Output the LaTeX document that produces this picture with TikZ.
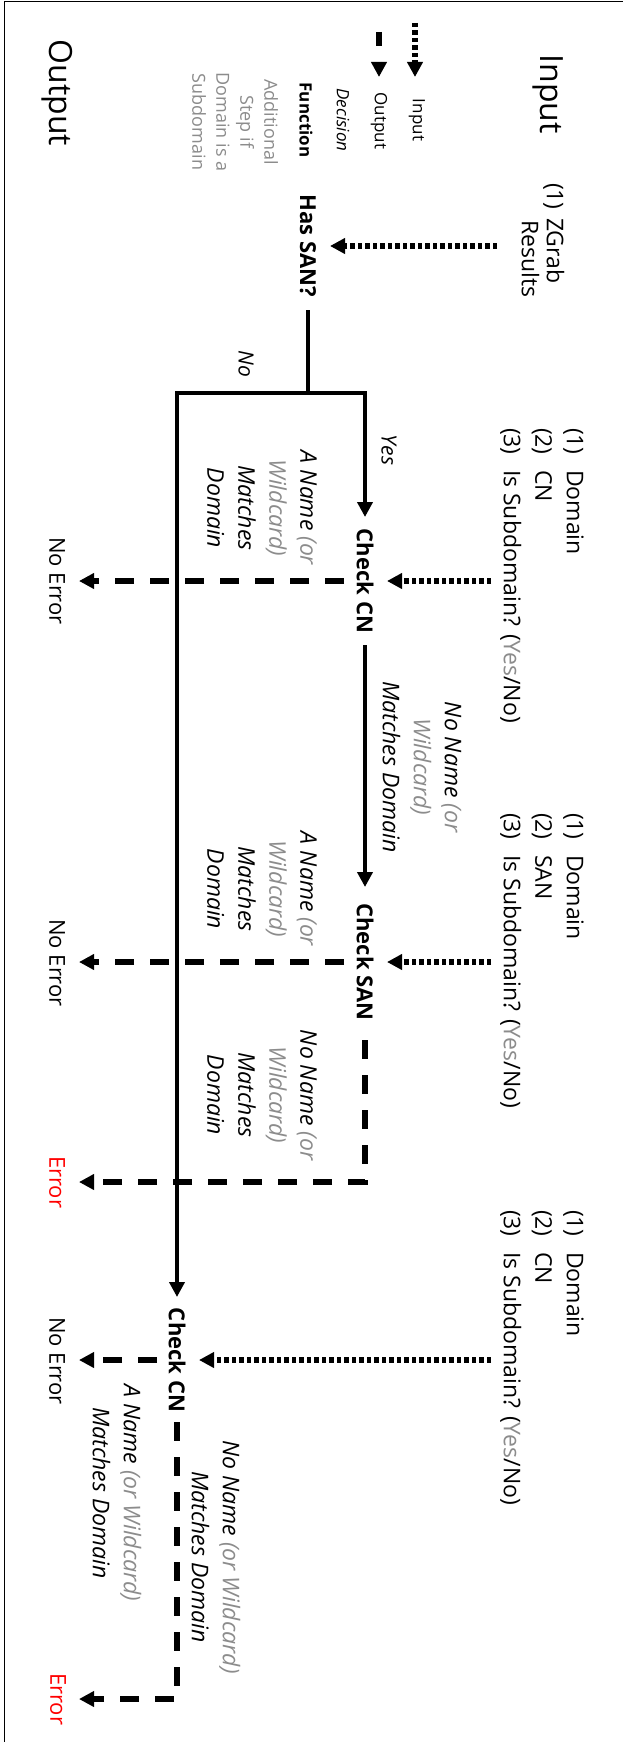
\documentclass[tikz,border=0pt]{standalone}
\usepackage{fontspec}
\setmainfont{Open Sans}
\usetikzlibrary{arrows.meta}
\definecolor{lg}{RGB}{140,140,140}
\definecolor{errred}{RGB}{255,0,0}
\newcommand{\myfs}[2]{\fontsize{#1pt}{#2pt}\selectfont}
\begin{document}
\begin{tikzpicture}[x=1pt,y=-1pt,
  rt/.style={rotate=-90,inner sep=0pt,outer sep=0pt,align=center},
  fnbox/.style={rt,font=\bfseries\myfs{22}{26}},
  lbl/.style={rt,font=\itshape\myfs{23}{31}},
  inlist/.style={rt,anchor=west,align=left,font=\myfs{23}{31.5}},
  outtxt/.style={rt,font=\myfs{22}{26}},
  tipd/.style={-{Triangle[length=15pt,width=15pt]}},
  solidarr/.style={line width=4.5pt,tipd},
  solidln/.style={line width=4.5pt},
  dasharr/.style={line width=5.5pt,dash pattern=on 19pt off 16pt,tipd},
  dotarr/.style={line width=5.5pt,dash pattern=on 4.5pt off 3pt,tipd},
]
\useasboundingbox (0,0) rectangle (623,1742);
\fill[white] (0,0) rectangle (623,1742);
\draw[line width=1.5pt] (4.5,1742) -- (4.5,1.5) -- (623,1.5);

% titles
\node[rt,font=\myfs{32}{38}] (tin) at (548,94) {Input};
\node[rt,font=\myfs{32}{38}] (tout) at (57,93) {Output};

% legend
\coordinate (lgA) at (415,23);
\coordinate (lgB) at (415,77);
\coordinate (lgC) at (379,32);
\coordinate (lgD) at (379,77);
\draw[dotarr] (lgA) -- (lgB);
\draw[dasharr,dash pattern=on 14pt off 16pt] (lgC) -- (lgD);
\node[rt,font=\myfs{17}{20}] (lgin) at (417,120) {Input};
\node[rt,font=\myfs{17}{20}] (lgout) at (379,121) {Output};
\node[rt,font=\itshape\myfs{17}{20}] (lgdec) at (343,120) {Decision};
\node[rt,font=\bfseries\myfs{17}{20}] (lgfun) at (306,120) {Function};
\node[rt,font=\myfs{18}{24},text=lg] (lgadd) at (235,122) {Additional\\Step if\\Domain is a\\Subdomain};

% inputs
\node[inlist,font=\myfs{23}{25}] (zgrab) at (543,183) {\makebox[35pt][l]{(1)}ZGrab\\\hspace*{37pt}Results};
\node[inlist] (in1) at (542,428) {\makebox[42pt][l]{(1)}Domain\\\makebox[42pt][l]{(2)}CN\\\makebox[42pt][l]{(3)}Is Subdomain? ({\color{lg}Yes}/No)};
\node[inlist] (in2) at (542,813) {\makebox[42pt][l]{(1)}Domain\\\makebox[42pt][l]{(2)}SAN\\\makebox[42pt][l]{(3)}Is Subdomain? ({\color{lg}Yes}/No)};
\node[inlist] (in3) at (542,1210) {\makebox[42pt][l]{(1)}Domain\\\makebox[42pt][l]{(2)}CN\\\makebox[42pt][l]{(3)}Is Subdomain? ({\color{lg}Yes}/No)};

% functions
\node[fnbox] (has) at (308,246) {Has SAN?};
\node[fnbox] (check1) at (365,581) {Check CN};
\node[fnbox] (checksan) at (365,962) {Check SAN};
\node[fnbox] (check3) at (177,1360) {Check CN};

% outputs
\node[outtxt] (noerr1) at (57,581) {No Error};
\node[outtxt] (noerr2) at (57,963) {No Error};
\node[outtxt,text=errred] (err1) at (57,1182) {Error};
\node[outtxt] (noerr3) at (57,1361) {No Error};
\node[outtxt,text=errred] (err2) at (58,1699) {Error};

% decisions
\node[lbl,font=\itshape\myfs{21}{25}] (no) at (246,364) {No};
\node[lbl,font=\itshape\myfs{21}{25}] (yes) at (389,450) {Yes};
\node[lbl] (lab1) at (262,508) {A Name {\color{lg}(or}\\{\color{lg}Wildcard)}\\Matches\\Domain};
\node[lbl] (lab2) at (422,767) {No Name {\color{lg}(or}\\{\color{lg}Wildcard)}\\Matches Domain};
\node[lbl] (lab3) at (262,889) {A Name {\color{lg}(or}\\{\color{lg}Wildcard)}\\Matches\\Domain};
\node[lbl] (lab4) at (262,1095) {No Name {\color{lg}(or}\\{\color{lg}Wildcard)}\\Matches\\Domain};
\node[lbl] (lab5) at (216,1557) {No Name {\color{lg}(or Wildcard)}\\Matches Domain};
\node[lbl] (lab6) at (117,1493) {A Name {\color{lg}(or Wildcard)}\\Matches Domain};

% connectors
\coordinate (j) at (308,393);
\draw[dotarr] ([xshift=-46pt]zgrab.center |- has.center) -- ([xshift=22pt]has.center);
\draw[solidln] ([yshift=-64pt]has.center) -- (j);
\draw[solidarr] (j) -| ([yshift=64pt]check1.center);
\draw[solidarr] (j) -| ([yshift=63pt]check3.center);

\draw[dotarr] ([xshift=-51pt]in1.center |- check1.center) -- ([xshift=22pt]check1.center);
\draw[dasharr] ([xshift=-21pt]check1.center) -- ([xshift=22pt]noerr1.center |- check1.center);
\draw[solidarr] ([yshift=-64pt]check1.center) -- ([yshift=75pt]checksan.center);

\draw[dotarr] ([xshift=-51pt]in2.center |- checksan.center) -- ([xshift=22pt]checksan.center);
\draw[dasharr] ([xshift=-21pt]checksan.center) -- ([xshift=22pt]noerr2.center |- checksan.center);
\draw[dasharr] ([yshift=-78pt]checksan.center) -- (checksan.center |- err1.center) -- ([xshift=22pt]err1.center);

\draw[dotarr] ([xshift=-51pt]in3.center |- check3.center) -- ([xshift=22pt]check3.center);
\draw[dasharr] ([xshift=-20pt]check3.center) -- ([xshift=22pt]noerr3.center |- check3.center);
\draw[dasharr] ([yshift=-62pt]check3.center) -- (check3.center |- err2.center) -- ([xshift=21pt]err2.center);
\end{tikzpicture}
\end{document}
